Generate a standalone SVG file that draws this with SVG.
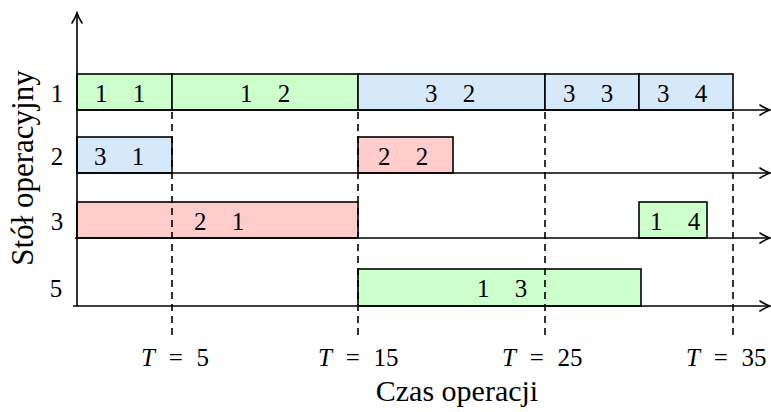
<svg xmlns="http://www.w3.org/2000/svg" width="771" height="412" viewBox="0 0 771 412" font-family="'Liberation Serif', 'Times New Roman', serif">
<defs>
<marker id="arr" viewBox="-11 -6 13 12" refX="0" refY="0" markerWidth="13" markerHeight="12" orient="auto" markerUnits="userSpaceOnUse">
<path d="M-10,-5 Q-4,-1.2 0,0 Q-4,1.2 -10,5" fill="none" stroke="#000" stroke-width="1.6" stroke-linecap="round"/>
</marker>
<style>
.box{stroke:#000;stroke-width:1.6}
.g{fill:#ccffcc}
.b{fill:#d6e9fb}
.r{fill:#ffcccc}
.d{font-family:'Liberation Serif',serif;font-size:25px;text-anchor:middle;word-spacing:19px}
.lab{font-family:'Liberation Serif',serif;font-size:25px;text-anchor:middle}
.t{font-family:'Liberation Serif',serif;font-size:25px;word-spacing:7.5px}
.axis{stroke:#000;stroke-width:1.6;fill:none}
.dash{stroke:#000;stroke-width:1.6;stroke-dasharray:7 5;fill:none}
</style>
</defs>
<rect width="771" height="412" fill="#fff"/>

<g id="n11"><rect class="box g" x="77" y="74" width="95" height="36"/><text class="d" x="120" y="102">1 1</text></g>
<g id="n12"><rect class="box g" x="172" y="74" width="186" height="36"/><text class="d" x="265" y="102">1 2</text></g>
<g id="n32"><rect class="box b" x="358" y="74" width="187" height="36"/><text class="d" x="450" y="102">3 2</text></g>
<g id="n33"><rect class="box b" x="545" y="74" width="94" height="36"/><text class="d" x="588" y="102">3 3</text></g>
<g id="n34"><rect class="box b" x="639" y="74" width="94" height="36"/><text class="d" x="682" y="102">3 4</text></g>

<g id="n31"><rect class="box b" x="77" y="137" width="95" height="36"/><text class="d" x="119" y="165">3 1</text></g>
<g id="n22"><rect class="box r" x="358" y="137" width="95" height="36"/><text class="d" x="403" y="165">2 2</text></g>

<g id="n21"><rect class="box r" x="77" y="202" width="281" height="36"/><text class="d" x="219" y="230">2 1</text></g>
<g id="n14"><rect class="box g" x="639" y="202" width="68" height="36"/><text class="d" x="675" y="230">1 4</text></g>

<g id="n13"><rect class="box g" x="358" y="269" width="283" height="37"/><text class="d" x="502" y="297">1 3</text></g>

<g id="connectors">
<line class="axis" x1="77" y1="306" x2="77" y2="13" marker-end="url(#arr)"/>
<line class="axis" x1="77" y1="110" x2="770" y2="110" marker-end="url(#arr)"/>
<line class="axis" x1="77" y1="173" x2="770" y2="173" marker-end="url(#arr)"/>
<line class="axis" x1="75" y1="238" x2="770" y2="238" marker-end="url(#arr)"/>
<line class="axis" x1="73" y1="306" x2="770" y2="306" marker-end="url(#arr)"/>
<line class="dash" x1="172" y1="112" x2="172" y2="336"/>
<line class="dash" x1="358" y1="112" x2="358" y2="336"/>
<line class="dash" x1="545" y1="112" x2="545" y2="336"/>
<line class="dash" x1="733" y1="112" x2="733" y2="336"/>
</g>

<g id="row-labels">
<text class="lab" x="57" y="102">1</text>
<text class="lab" x="57" y="165">2</text>
<text class="lab" x="57" y="230">3</text>
<text class="lab" x="56" y="297">5</text>
</g>

<g id="time-labels">
<text class="t" x="141" y="366"><tspan font-style="italic">T</tspan> = 5</text>
<text class="t" x="318" y="366"><tspan font-style="italic">T</tspan> = 15</text>
<text class="t" x="502" y="366"><tspan font-style="italic">T</tspan> = 25</text>
<text class="t" x="686" y="366"><tspan font-style="italic">T</tspan> = 35</text>
</g>

<text x="457" y="401" font-size="30" text-anchor="middle">Czas operacji</text>
<text transform="translate(33,168) rotate(-90)" font-size="31" text-anchor="middle">Stół operacyjny</text>
</svg>
